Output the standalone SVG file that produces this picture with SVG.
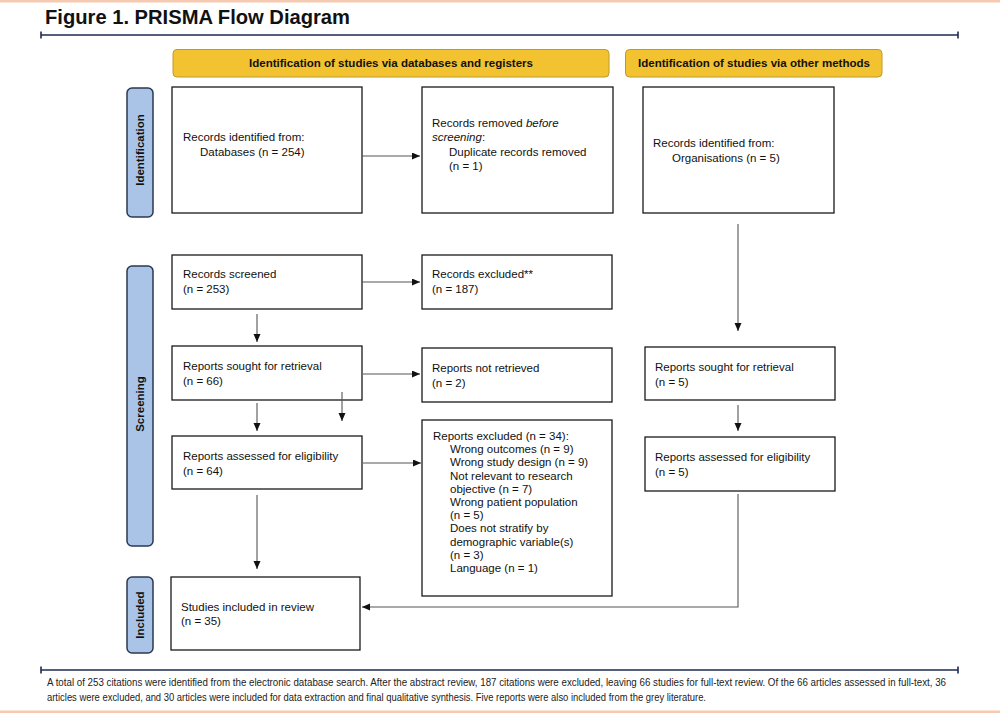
<svg xmlns="http://www.w3.org/2000/svg" width="1000" height="713" viewBox="0 0 1000 713">
<defs>
<marker id="ah" markerUnits="userSpaceOnUse" markerWidth="8" markerHeight="8" refX="8" refY="3.5" orient="auto">
<path d="M0,0 L8,3.5 L0,7 z" fill="#111"/>
</marker>
<style>
.bg{fill:#fff}
.peach{fill:#f6c9b1}
.rule{stroke:#1f2b4f;stroke-width:1.6;fill:none}
.box{fill:#fff;stroke:#1a1a1a;stroke-width:1.3}
.hdr{fill:#f2c230;stroke:#bf9a2a;stroke-width:1}
.bar{fill:#a9c4e7;stroke:#2a3852;stroke-width:1.5}
text{font-family:"Liberation Sans",Arial,sans-serif;fill:#111}
.t{font-size:11.5px}
.hdrt{font-size:11px;font-weight:bold;text-anchor:middle}
.bart{font-size:11.5px;font-weight:bold;text-anchor:middle}
.title{font-size:20px;font-weight:bold}
.foot{font-size:10px;fill:#222}
.conn line,.conn path{stroke:#555;stroke-width:1.1;fill:none}
.arr{marker-end:url(#ah)}
</style>
</defs>
<rect class="bg" x="0" y="0" width="1000" height="713"/>
<rect class="peach" x="0" y="0" width="1000" height="2.5"/>
<rect class="peach" x="0" y="710.5" width="1000" height="2.5"/>

<g id="title">
<text class="title" x="45" y="24" textLength="305" lengthAdjust="spacingAndGlyphs">Figure 1. PRISMA Flow Diagram</text>
<path class="rule" d="M41,35 H958 M41,31.5 V38.5 M958,31.5 V38.5"/>
</g>

<g id="hdr-db">
<rect class="hdr" x="173" y="49.5" width="436" height="27.5" rx="4"/>
<text class="hdrt" x="391" y="67" textLength="284" lengthAdjust="spacingAndGlyphs">Identification of studies via databases and registers</text>
</g>
<g id="hdr-other">
<rect class="hdr" x="625.5" y="49.5" width="256.5" height="27.5" rx="4"/>
<text class="hdrt" x="754" y="67" textLength="232" lengthAdjust="spacingAndGlyphs">Identification of studies via other methods</text>
</g>

<g id="bar-identification">
<rect class="bar" x="127" y="88" width="26" height="129" rx="5"/>
<text class="bart" transform="translate(144,150) rotate(-90)">Identification</text>
</g>
<g id="bar-screening">
<rect class="bar" x="127" y="266" width="26" height="280" rx="5"/>
<text class="bart" transform="translate(144,404) rotate(-90)">Screening</text>
</g>
<g id="bar-included">
<rect class="bar" x="127" y="577" width="26" height="76" rx="5"/>
<text class="bart" transform="translate(144,615) rotate(-90)">Included</text>
</g>

<g id="n-records-db">
<rect class="box" x="172" y="87" width="190" height="126"/>
<text class="t" x="183" y="141">Records identified from:</text>
<text class="t" x="200" y="155.5">Databases (n = 254)</text>
</g>
<g id="n-removed">
<rect class="box" x="422" y="87" width="191" height="126"/>
<text class="t" x="432" y="127">Records removed <tspan font-style="italic">before</tspan></text>
<text class="t" x="432" y="141.3"><tspan font-style="italic">screening</tspan>:</text>
<text class="t" x="449" y="155.6">Duplicate records removed</text>
<text class="t" x="449" y="169.9">(n = 1)</text>
</g>
<g id="n-records-org">
<rect class="box" x="643" y="87" width="191" height="126"/>
<text class="t" x="653" y="147">Records identified from:</text>
<text class="t" x="672" y="161.5">Organisations (n = 5)</text>
</g>

<g id="n-screened">
<rect class="box" x="172" y="255" width="190" height="54"/>
<text class="t" x="183" y="278">Records screened</text>
<text class="t" x="183" y="292.5">(n = 253)</text>
</g>
<g id="n-excluded">
<rect class="box" x="422" y="255" width="190" height="54"/>
<text class="t" x="432" y="278">Records excluded**</text>
<text class="t" x="432" y="292.5">(n = 187)</text>
</g>
<g id="n-sought">
<rect class="box" x="172" y="346" width="190" height="54"/>
<text class="t" x="183" y="370">Reports sought for retrieval</text>
<text class="t" x="183" y="384.5">(n = 66)</text>
</g>
<g id="n-notretrieved">
<rect class="box" x="422" y="348" width="190" height="54"/>
<text class="t" x="432" y="372">Reports not retrieved</text>
<text class="t" x="432" y="386.5">(n = 2)</text>
</g>
<g id="n-sought-other">
<rect class="box" x="645" y="347" width="190" height="53"/>
<text class="t" x="655" y="371">Reports sought for retrieval</text>
<text class="t" x="655" y="385.5">(n = 5)</text>
</g>
<g id="n-assessed">
<rect class="box" x="172" y="436" width="190" height="53"/>
<text class="t" x="183" y="460">Reports assessed for eligibility</text>
<text class="t" x="183" y="474.5">(n = 64)</text>
</g>
<g id="n-reports-excluded">
<rect class="box" x="422" y="420" width="190" height="176"/>
<text class="t" x="433" y="440">Reports excluded (n = 34):</text>
<text class="t" x="450" y="453.2">Wrong outcomes (n = 9)</text>
<text class="t" x="450" y="466.4">Wrong study design (n = 9)</text>
<text class="t" x="450" y="479.6">Not relevant to research</text>
<text class="t" x="450" y="492.8">objective (n = 7)</text>
<text class="t" x="450" y="506">Wrong patient population</text>
<text class="t" x="450" y="519.2">(n = 5)</text>
<text class="t" x="450" y="532.4">Does not stratify by</text>
<text class="t" x="450" y="545.6">demographic variable(s)</text>
<text class="t" x="450" y="558.8">(n = 3)</text>
<text class="t" x="450" y="572">Language (n = 1)</text>
</g>
<g id="n-assessed-other">
<rect class="box" x="645" y="437" width="190" height="54"/>
<text class="t" x="655" y="461">Reports assessed for eligibility</text>
<text class="t" x="655" y="475.5">(n = 5)</text>
</g>
<g id="n-included">
<rect class="box" x="171" y="577" width="189" height="73"/>
<text class="t" x="181" y="611">Studies included in review</text>
<text class="t" x="181" y="625">(n = 35)</text>
</g>

<g class="conn" id="connectors">
<line class="arr" x1="362" y1="156" x2="420" y2="156"/>
<line class="arr" x1="362" y1="282" x2="420" y2="282"/>
<line class="arr" x1="363" y1="374" x2="420" y2="374"/>
<line class="arr" x1="363" y1="463" x2="421" y2="463"/>
<line class="arr" x1="257" y1="314" x2="257" y2="342"/>
<line class="arr" x1="257" y1="403" x2="257" y2="431"/>
<line class="arr" x1="342" y1="392" x2="342" y2="421"/>
<line class="arr" x1="257" y1="495" x2="257" y2="569"/>
<line class="arr" x1="738" y1="224" x2="738" y2="331"/>
<line class="arr" x1="738" y1="405" x2="738" y2="431"/>
<path class="arr" d="M738,494 V607 H362"/>
</g>

<g id="footer">
<path class="rule" d="M41,670 H958 M41,666.5 V673.5 M958,666.5 V673.5"/>
<text class="foot" x="47" y="686" textLength="899" lengthAdjust="spacingAndGlyphs">A total of 253 citations were identified from the electronic database search. After the abstract review, 187 citations were excluded, leaving 66 studies for full-text review. Of the 66 articles assessed in full-text, 36</text>
<text class="foot" x="47" y="701" textLength="659" lengthAdjust="spacingAndGlyphs">articles were excluded, and 30 articles were included for data extraction and final qualitative synthesis. Five reports were also included from the grey literature.</text>
</g>
</svg>
